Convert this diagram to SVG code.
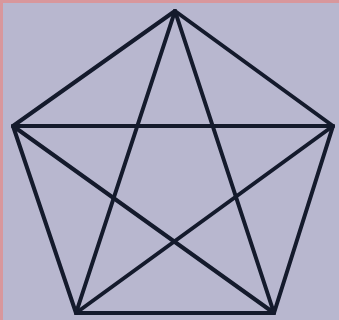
<svg xmlns="http://www.w3.org/2000/svg" width="339" height="320" viewBox="0 0 339 320">
<style>
.e{stroke:#141a2c;stroke-width:4;stroke-linecap:round;fill:none}
</style>
<rect x="0" y="0" width="339" height="320" fill="#b8b7cf"/>
<line x1="0" y1="1.5" x2="339" y2="1.5" stroke="#d8979c" stroke-width="3"/>
<line x1="1.5" y1="0" x2="1.5" y2="320" stroke="#d8979c" stroke-width="3"/>
<g id="connectors">
<line class="e" x1="175" y1="11" x2="13" y2="126"/>
<line class="e" x1="175" y1="11" x2="333" y2="126"/>
<line class="e" x1="13" y1="126" x2="76" y2="313"/>
<line class="e" x1="333" y1="126" x2="274" y2="313"/>
<line class="e" x1="76" y1="313" x2="274" y2="313"/>
<line class="e" x1="13" y1="126" x2="333" y2="126"/>
<line class="e" x1="175" y1="11" x2="76" y2="313"/>
<line class="e" x1="175" y1="11" x2="274" y2="313"/>
<line class="e" x1="13" y1="126" x2="274" y2="313"/>
<line class="e" x1="333" y1="126" x2="76" y2="313"/>
</g>
</svg>
